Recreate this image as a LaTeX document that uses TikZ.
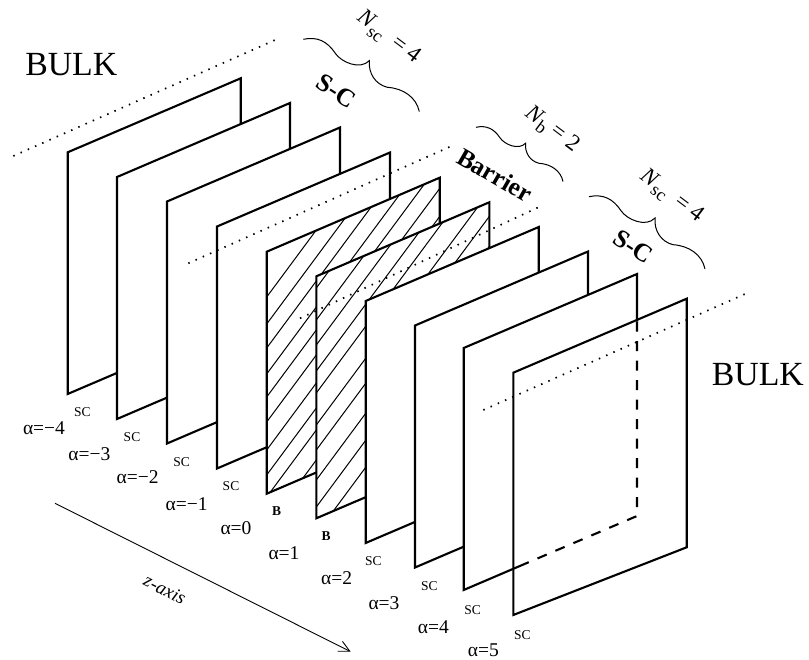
\documentclass[tikz,border=0pt]{standalone}
\usepackage{fontspec}
\setmainfont{Liberation Serif}
\usepackage{tikz}
\usetikzlibrary{arrows.meta}

\begin{document}
\begin{tikzpicture}[
    x=1pt, y=-1pt,
    plate/.style={draw, line width=2.1pt, fill=white},
    hatchline/.style={line width=1pt},
    dotline/.style={line width=1.7pt, dash pattern=on 1.5pt off 6.4pt},
    hiddenline/.style={line width=2.1pt, dash pattern=on 10pt off 9.5pt},
    axisline/.style={-{Straight Barb[length=11pt, width=11pt]}, line width=0.9pt},
    curly/.pic={\draw[line width=1pt] (0,0) .. controls (14,-3) and (24,2) .. (32,14)
        .. controls (38,23) and (57,31) .. (66,21.3)
        .. controls (65,34) and (72,45) .. (84,48)
        .. controls (100,49) and (113,58) .. (116,72.3);},
    bulk/.style={font=\fontsize{33.8}{36}\selectfont, inner sep=0pt},
    region/.style={font=\fontsize{25.5}{27}\selectfont\bfseries, inner sep=0pt},
    count/.style={font=\fontsize{23}{25}\selectfont, inner sep=0pt, rotate=-37},
    kind/.style={font=\fontsize{13.5}{15}\selectfont, inner sep=0pt},
    kindb/.style={font=\fontsize{13.5}{15}\selectfont\bfseries, inner sep=0pt},
    layer/.style={font=\fontsize{19.5}{21}\selectfont, inner sep=0pt}]
\useasboundingbox (0,0) rectangle (809,660);
% plates, back to front
\draw[plate] (67.7,152.3) -- (240.7,78.3) -- (240.7,320) -- (67.7,394) -- cycle;
\draw[plate] (117,177) -- (290,103) -- (290,345) -- (117,419) -- cycle;
\draw[plate] (167,201.5) -- (340,127.5) -- (340,369.5) -- (167,443.5) -- cycle;
\draw[plate] (217,226.5) -- (390,152.5) -- (390,394.5) -- (217,468.5) -- cycle;
% barrier plates
\fill[white] (266.7,251.7) -- (439.7,177.7) -- (439.7,419.7) -- (266.7,493.7) -- cycle;
\begin{scope}
\clip (266.7,251.7) -- (439.7,177.7) -- (439.7,419.7) -- (266.7,493.7) -- cycle;
\draw[hatchline] (266.7,297) -- ++(200,-270) (266.7,324) -- ++(200,-270)
    (266.7,348) -- ++(200,-270) (266.7,374) -- ++(200,-270) (266.7,397) -- ++(200,-270)
    (266.7,422) -- ++(200,-270) (266.7,450) -- ++(200,-270) (266.7,475) -- ++(200,-270)
    (266.7,497) -- ++(200,-270) (266.7,527) -- ++(200,-270);
\end{scope}
\draw[plate, fill=none] (266.7,251.7) -- (439.7,177.7) -- (439.7,419.7) -- (266.7,493.7) -- cycle;
\fill[white] (316.3,276.3) -- (489.3,202.3) -- (489.3,444.3) -- (316.3,518.3) -- cycle;
\begin{scope}
\clip (316.3,276.3) -- (489.3,202.3) -- (489.3,444.3) -- (316.3,518.3) -- cycle;
\draw[hatchline] (316.3,288) -- ++(200,-270) (316.3,320) -- ++(200,-270)
    (316.3,345) -- ++(200,-270) (316.3,371) -- ++(200,-270) (316.3,393) -- ++(200,-270)
    (316.3,425) -- ++(200,-270) (316.3,450) -- ++(200,-270) (316.3,480) -- ++(200,-270)
    (316.3,507) -- ++(200,-270) (316.3,534) -- ++(200,-270);
\end{scope}
\draw[plate, fill=none] (316.3,276.3) -- (489.3,202.3) -- (489.3,444.3) -- (316.3,518.3) -- cycle;
% front plates
\draw[plate] (365.7,301) -- (538.7,227) -- (538.7,469) -- (365.7,543) -- cycle;
\draw[plate] (415,325.5) -- (588,251.5) -- (588,493.5) -- (415,567.5) -- cycle;
\fill[white] (463.7,348) -- (637,274) -- (637,516) -- (463.7,590) -- cycle;
\draw[line width=2.1pt] (637,321.7) -- (637,274) -- (463.7,348) -- (463.7,590) -- (521,565.5);
\draw[hiddenline] (637,321.7) -- (637,516) -- (521,565.5);
\draw[line width=2.1pt] (513.3,372.7) -- (686.7,298.7) -- (686.7,547.3) -- (513.3,615) -- cycle;
% dotted lines
\coordinate (dotA1) at (13.3,156);
\coordinate (dotA2) at (275,40);
\coordinate (dotB1) at (188.3,263.3);
\coordinate (dotB2) at (450,146.7);
\coordinate (dotC1) at (300,318.3);
\coordinate (dotC2) at (543.3,205);
\coordinate (dotD1) at (483.3,410);
\coordinate (dotD2) at (745,294);
\draw[dotline] (dotA1) -- (dotA2);
\draw[dotline] (dotB1) -- (dotB2);
\draw[dotline] (dotC1) -- (dotC2);
\draw[dotline] (dotD1) -- (dotD2);
% braces
\pic at (303.3,39.3) {curly};
\pic[scale=0.75] at (476,127.3) {curly};
\pic at (589,196.7) {curly};
% z axis
\coordinate (zstart) at (55,503.3);
\coordinate (zend) at (350.7,651.7);
\draw[axisline] (zstart) -- (zend);
\node[font=\fontsize{19}{21}\selectfont\itshape, inner sep=0pt, rotate=-26.7] (zlabel) at (165,589.3) {z-axis};
% labels
\node[bulk] (bulkleft) at (71.3,65) {BULK};
\node[bulk] (bulkright) at (757.8,375) {BULK};
\node[region, rotate=-33] (scleft) at (336,91) {S-C};
\node[region, rotate=-33] (scright) at (633.3,246.7) {S-C};
\node[region, rotate=-30] (barrier) at (495,175) {Barrier};
\node[count] (nscleft) at (388,38) {\textit{N}\raisebox{-0.25em}{\fontsize{18}{19}\selectfont sc}\ \ = 4};
\node[count] (nb) at (551.7,130) {\textit{N}\raisebox{-0.25em}{\fontsize{18}{19}\selectfont b}\ = 2};
\node[count] (nscright) at (671.7,196.7) {\textit{N}\raisebox{-0.25em}{\fontsize{18}{19}\selectfont sc}\ \ = 4};
\node[kind] (kinda) at (82.3,412.3) {SC};
\node[kind] (kindb) at (132,437.3) {SC};
\node[kind] (kindc) at (181.7,462.3) {SC};
\node[kind] (kindd) at (231,486.3) {SC};
\node[kindb] (kinde) at (276.7,511.3) {B};
\node[kindb] (kindf) at (326,536) {B};
\node[kind] (kindg) at (373.3,561) {SC};
\node[kind] (kindh) at (429.3,586) {SC};
\node[kind] (kindi) at (472.7,610) {SC};
\node[kind] (kindj) at (522.3,635) {SC};
\node[layer] (layera) at (44,428.3) {α=−4};
\node[layer] (layerb) at (89.3,454) {α=−3};
\node[layer] (layerc) at (137.7,476.7) {α=−2};
\node[layer] (layerd) at (186.7,504) {α=−1};
\node[layer] (layere) at (236,528) {α=0};
\node[layer] (layerf) at (284,553.3) {α=1};
\node[layer] (layerg) at (336.7,578.3) {α=2};
\node[layer] (layerh) at (384,603.3) {α=3};
\node[layer] (layeri) at (433.3,626.7) {α=4};
\node[layer] (layerj) at (483.3,650.7) {α=5};
\end{tikzpicture}
\end{document}
